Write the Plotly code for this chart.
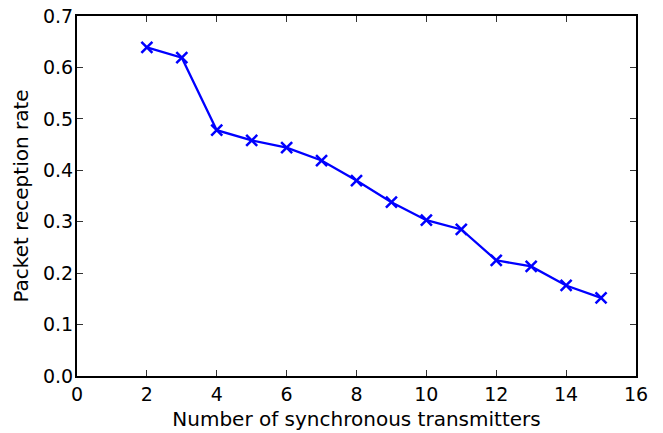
import plotly.graph_objects as go

x_vals = [2, 3, 4, 5, 6, 7, 8, 9, 10, 11, 12, 13, 14, 15]
rates = [0.639, 0.619, 0.478, 0.458, 0.444, 0.419, 0.380, 0.338, 0.303, 0.285, 0.225, 0.213, 0.176, 0.152]
x_ticks = [0, 2, 4, 6, 8, 10, 12, 14, 16]
y_ticks = [0.0, 0.1, 0.2, 0.3, 0.4, 0.5, 0.6, 0.7]

fig = go.Figure()
fig.add_trace(go.Scatter(
    x=x_vals, y=rates, mode="lines+markers",
    line=dict(color="#0000ff", width=2.3),
    marker=dict(symbol="x-thin", size=11, line=dict(color="#0000ff", width=2.5), color="#0000ff"),
    showlegend=False,
))

axis_common = dict(
    showgrid=False, zeroline=False, showline=True, linecolor="black", linewidth=2,
    mirror="allticks", ticks="inside", ticklen=6, tickcolor="#333333", tickwidth=1,
    tickfont=dict(family="DejaVu Sans", size=19, color="black"),
    automargin=False,
)
fig.update_xaxes(range=[0, 16], tickvals=x_ticks, ticktext=[str(v) for v in x_ticks],
                 title=dict(text="Number of synchronous transmitters", font=dict(family="DejaVu Sans", size=20, color="black"), standoff=8),
                 **axis_common)
fig.update_yaxes(range=[0, 0.7], tickvals=y_ticks, ticktext=[f"{v:.1f}" for v in y_ticks],
                 ticklabelstandoff=-2,
                 title=dict(text="Packet reception rate", font=dict(family="DejaVu Sans", size=20, color="black"), standoff=9),
                 **axis_common)
fig.update_layout(
    width=663, height=433,
    margin=dict(l=77, r=27, t=16, b=57),
    paper_bgcolor="white", plot_bgcolor="white",
)
fig.write_html("out.html")
